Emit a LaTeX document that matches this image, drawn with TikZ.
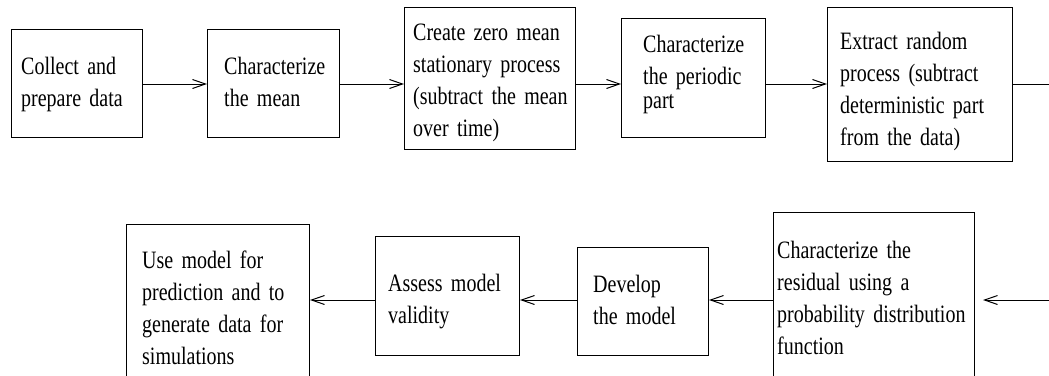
\documentclass[tikz,border=0pt]{standalone}
\usepackage{fontspec}
\setmainfont{Liberation Serif}[FakeStretch=0.8]
\usetikzlibrary{arrows.meta}
\newcommand\myboxfont{\fontsize{25}{32}\selectfont\spaceskip=4.5pt plus 1pt minus 1pt\relax}
\begin{document}
\begin{tikzpicture}[x=1pt,y=-1pt,
  box/.style={draw=black, line width=1pt, rectangle, inner sep=0pt, anchor=north west},
  txt/.style={anchor=base west, inner sep=0pt, text width=260pt, align=left, font=\myboxfont},
  arr/.style={draw=black, line width=1pt, -{Straight Barb[length=13pt,width=9pt,line width=1pt]}},
  ln/.style={draw=black, line width=1pt}]
\clip (0,0) rectangle (1049,375);
% top row boxes
\node[box, minimum width=131pt, minimum height=108pt] (b1) at (11,29) {};
\node[box, minimum width=132pt, minimum height=108pt] (b2) at (207,29) {};
\node[box, minimum width=171pt, minimum height=142pt] (b3) at (404,7) {};
\node[box, minimum width=144pt, minimum height=119pt] (b4) at (621,18) {};
\node[box, minimum width=185pt, minimum height=154pt] (b5) at (827,7) {};
% bottom row boxes
\node[box, minimum width=183pt, minimum height=170pt] (bu) at (126,224) {};
\node[box, minimum width=144pt, minimum height=119pt] (ba) at (375,236) {};
\node[box, minimum width=131pt, minimum height=108pt] (bd) at (577,247) {};
\node[box, minimum width=201pt, minimum height=180pt] (br) at (773,212) {};
% texts
\node[txt] (t1) at (21,74) {Collect and\\prepare data};
\node[txt] (t2) at (224,74) {Characterize\\the mean};
\node[txt] (t3) at (413,40) {Create zero mean\\stationary process\\(subtract the mean\\over time)};
\node[txt] (t4) at (643,52) {Characterize\\the periodic\\[-8pt]part};
\node[txt] (t5) at (840,49) {Extract random\\process (subtract\\deterministic part\\from the data)};
\node[txt] (tu) at (142,268) {Use model for\\prediction and to\\generate data for\\simulations};
\node[txt] (ta) at (388,291) {Assess model\\validity};
\node[txt] (td) at (593,292) {Develop\\the model};
\node[txt] (tr) at (777,258) {Characterize the\\residual using a\\probability distribution\\function};
% rows
\coordinate (r1) at (0,84);
\coordinate (r2) at (0,300);
\coordinate (e1) at (1049,84);
\coordinate (e2) at (1049,300);
% top connectors
\draw[arr] (b1.east |- r1) -- (b2.west |- r1);
\draw[arr] (b2.east |- r1) -- (b3.west |- r1);
\draw[arr] (b3.east |- r1) -- (b4.west |- r1);
\draw[arr] (b4.east |- r1) -- (b5.west |- r1);
\draw[ln] (b5.east |- r1) -- (e1);
% bottom connectors
\draw[arr, shorten >=8pt] (e2) -- (br.east |- r2);
\draw[arr] (br.west |- r2) -- (bd.east |- r2);
\draw[arr] (bd.west |- r2) -- (ba.east |- r2);
\draw[arr] (ba.west |- r2) -- (bu.east |- r2);
\end{tikzpicture}
\end{document}
